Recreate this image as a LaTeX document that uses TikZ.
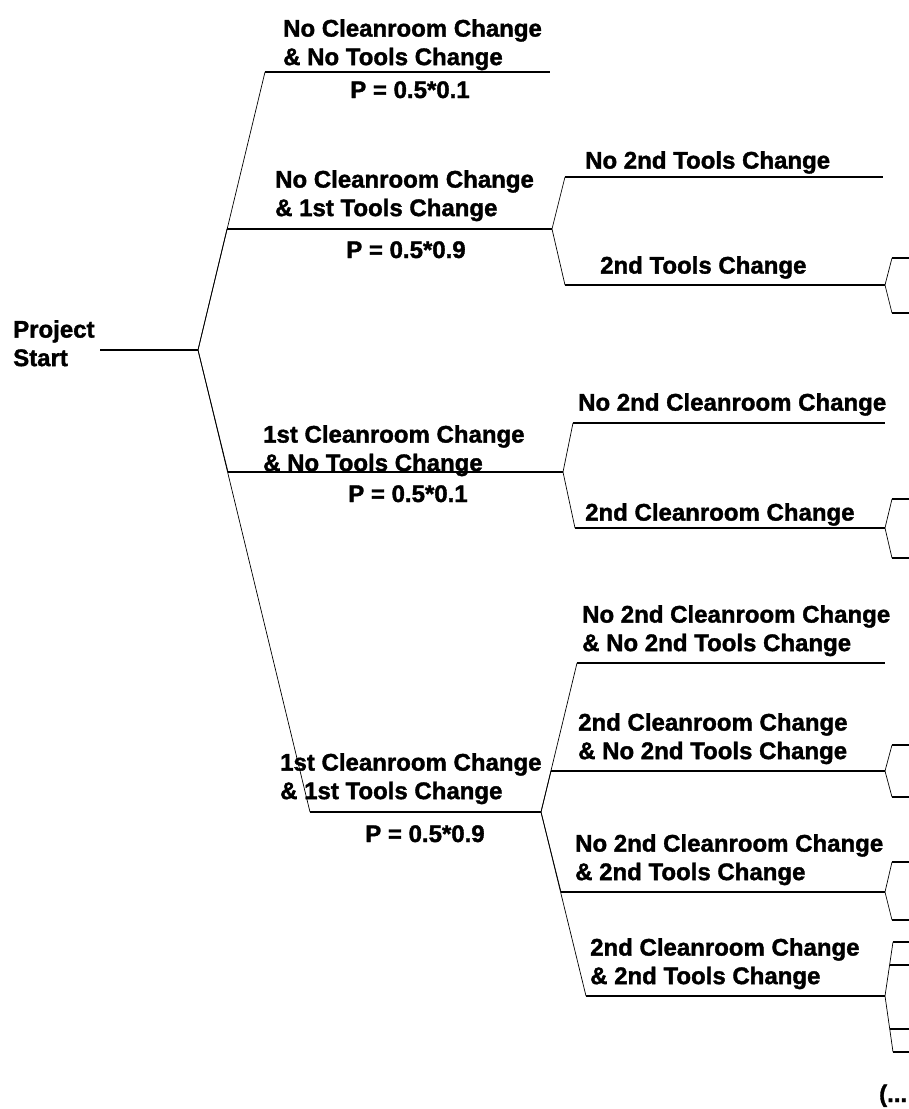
\documentclass[tikz,border=0pt]{standalone}
\usepackage{fontspec}
\setmainfont{Liberation Sans}[BoldFeatures={FakeBold=1.5}]
\usetikzlibrary{positioning}

\begin{document}
\begin{tikzpicture}[
    x=1pt, y=-1pt,
    lbl/.style={inner sep=0pt, anchor=north west, align=left, font=\bfseries\fontsize{24}{28.5}\selectfont},
    prob/.style={inner sep=0pt, anchor=base, font=\bfseries\fontsize{24}{28.5}\selectfont},
    branch/.style={line width=1.5pt},
    link/.style={line width=0.7pt}
]
\useasboundingbox (0,0) rectangle (909,1109);

% root
\node[lbl] (start) at (13,320) {Project\\Start};
\coordinate (r0) at (100,350);
\coordinate (r1) at (198,350);

% first decision
\coordinate (a1s) at (265,72);  \coordinate (a1e) at (550,72);
\coordinate (a2s) at (227,229); \coordinate (a2e) at (552,229);
\coordinate (a3s) at (228,472); \coordinate (a3e) at (563,472);
\coordinate (a4s) at (310,812); \coordinate (a4e) at (541,812);
\node[lbl] (a1) at (283,19) {No Cleanroom Change\\\& No Tools Change};
\node[prob] (p1) at (410,98) {P = 0.5*0.1};
\node[lbl] (a2) at (275,170) {No Cleanroom Change\\\& 1st Tools Change};
\node[prob] (p2) at (406,258) {P = 0.5*0.9};
\node[lbl] (a3) at (263,425) {1st Cleanroom Change\\\& No Tools Change};
\node[prob] (p3) at (408,502) {P = 0.5*0.1};
\node[lbl] (a4) at (280,753) {1st Cleanroom Change\\\& 1st Tools Change};
\node[prob] (p4) at (425,842) {P = 0.5*0.9};

% second decision
\coordinate (b1s) at (565,177); \coordinate (b1e) at (883,177);
\coordinate (b2s) at (565,285); \coordinate (b2e) at (885,285);
\coordinate (b3s) at (573,423); \coordinate (b3e) at (885,423);
\coordinate (b4s) at (575,528); \coordinate (b4e) at (885,528);
\coordinate (b5s) at (577,663); \coordinate (b5e) at (885,663);
\coordinate (b6s) at (551,771); \coordinate (b6e) at (885,771);
\coordinate (b7s) at (561,892); \coordinate (b7e) at (885,892);
\coordinate (b8s) at (586,996); \coordinate (b8e) at (885,996);
\node[lbl] (b1) at (585,151) {No 2nd Tools Change};
\node[lbl] (b2) at (600,256) {2nd Tools Change};
\node[lbl] (b3) at (578,393) {No 2nd Cleanroom Change};
\node[lbl] (b4) at (585,503) {2nd Cleanroom Change};
\node[lbl] (b5) at (582,605) {No 2nd Cleanroom Change\\\& No 2nd Tools Change};
\node[lbl] (b6) at (578,713) {2nd Cleanroom Change\\\& No 2nd Tools Change};
\node[lbl] (b7) at (575,834) {No 2nd Cleanroom Change\\\& 2nd Tools Change};
\node[lbl] (b8) at (590,938) {2nd Cleanroom Change\\\& 2nd Tools Change};

% cut-off stubs on the right
\coordinate (c2u) at (892,258); \coordinate (c2d) at (892,313);
\coordinate (c4u) at (892,499); \coordinate (c4d) at (892,558);
\coordinate (c6u) at (892,745); \coordinate (c6d) at (892,797);
\coordinate (c7u) at (892,862); \coordinate (c7d) at (892,920);
\coordinate (c8u) at (893,942); \coordinate (c8v) at (890,965);
\coordinate (c8w) at (890,1029); \coordinate (c8d) at (893,1052);
\node[prob, anchor=base west] (more) at (879,1102) {(...};

\draw[branch] (r0) -- (r1);
\draw[branch] (a1s) -- (a1e);
\draw[branch] (a2s) -- (a2e);
\draw[branch] (a3s) -- (a3e);
\draw[branch] (a4s) -- (a4e);
\draw[link] (r1) -- (a1s);
\draw[link] (r1) -- (a2s);
\draw[link] (r1) -- (a3s);
\draw[link] (r1) -- (a4s);

\draw[branch] (b1s) -- (b1e);
\draw[branch] (b2s) -- (b2e);
\draw[branch] (b3s) -- (b3e);
\draw[branch] (b4s) -- (b4e);
\draw[branch] (b5s) -- (b5e);
\draw[branch] (b6s) -- (b6e);
\draw[branch] (b7s) -- (b7e);
\draw[branch] (b8s) -- (b8e);
\draw[link] (a2e) -- (b1s);
\draw[link] (a2e) -- (b2s);
\draw[link] (a3e) -- (b3s);
\draw[link] (a3e) -- (b4s);
\draw[link] (a4e) -- (b5s);
\draw[link] (a4e) -- (b6s);
\draw[link] (a4e) -- (b7s);
\draw[link] (a4e) -- (b8s);

\draw[link] (b2e) -- (c2u);
\draw[link] (b2e) -- (c2d);
\draw[link] (b4e) -- (c4u);
\draw[link] (b4e) -- (c4d);
\draw[link] (b6e) -- (c6u);
\draw[link] (b6e) -- (c6d);
\draw[link] (b7e) -- (c7u);
\draw[link] (b7e) -- (c7d);
\draw[link] (b8e) -- (c8u);
\draw[link] (b8e) -- (c8d);
\draw[branch] (c2u) -- +(20,0);
\draw[branch] (c2d) -- +(20,0);
\draw[branch] (c4u) -- +(20,0);
\draw[branch] (c4d) -- +(20,0);
\draw[branch] (c6u) -- +(20,0);
\draw[branch] (c6d) -- +(20,0);
\draw[branch] (c7u) -- +(20,0);
\draw[branch] (c7d) -- +(20,0);
\draw[branch] (c8u) -- +(20,0);
\draw[branch] (c8v) -- +(20,0);
\draw[branch] (c8w) -- +(20,0);
\draw[branch] (c8d) -- +(20,0);
\end{tikzpicture}
\end{document}
